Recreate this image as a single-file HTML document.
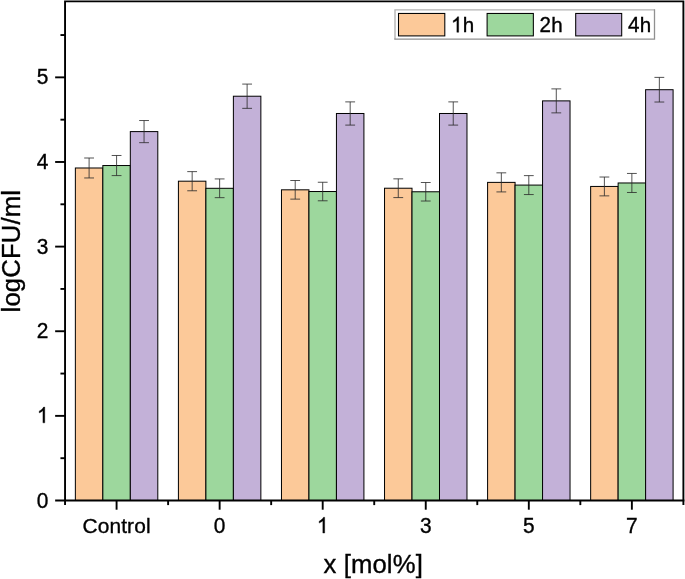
<!DOCTYPE html>
<html><head><meta charset="utf-8"><title>chart</title>
<style>html,body{margin:0;padding:0;background:#fff;}body{width:685px;height:579px;overflow:hidden;}svg{display:block;will-change:transform;opacity:0.9999;}text{font-family:"Liberation Sans",sans-serif;fill:#000;stroke:#000;stroke-width:0.35px;letter-spacing:0.12px;}</style>
</head><body>
<svg width="685" height="579" viewBox="0 0 685 579">
<rect x="0" y="0" width="685" height="579" fill="#ffffff"/>
<g stroke="#000" stroke-width="1.0">
<rect x="75.36" y="167.99" width="27.48" height="332.51" fill="#fcc999"/>
<rect x="102.84" y="165.53" width="27.48" height="334.97" fill="#9dd79d"/>
<rect x="130.32" y="131.60" width="27.48" height="368.90" fill="#c3b1d8"/>
<rect x="178.41" y="181.19" width="27.48" height="319.31" fill="#fcc999"/>
<rect x="205.90" y="188.30" width="27.48" height="312.20" fill="#9dd79d"/>
<rect x="233.38" y="96.22" width="27.48" height="404.28" fill="#c3b1d8"/>
<rect x="281.47" y="189.82" width="27.48" height="310.68" fill="#fcc999"/>
<rect x="308.95" y="191.52" width="27.48" height="308.98" fill="#9dd79d"/>
<rect x="336.44" y="113.49" width="27.48" height="387.01" fill="#c3b1d8"/>
<rect x="384.53" y="188.22" width="27.48" height="312.28" fill="#fcc999"/>
<rect x="412.01" y="191.77" width="27.48" height="308.73" fill="#9dd79d"/>
<rect x="439.50" y="113.49" width="27.48" height="387.01" fill="#c3b1d8"/>
<rect x="487.59" y="182.38" width="27.48" height="318.12" fill="#fcc999"/>
<rect x="515.07" y="185.08" width="27.48" height="315.42" fill="#9dd79d"/>
<rect x="542.55" y="100.88" width="27.48" height="399.62" fill="#c3b1d8"/>
<rect x="590.65" y="186.44" width="27.48" height="314.06" fill="#fcc999"/>
<rect x="618.13" y="182.97" width="27.48" height="317.53" fill="#9dd79d"/>
<rect x="645.61" y="89.71" width="27.48" height="410.79" fill="#c3b1d8"/>
</g>
<g stroke="#2a2a2a" stroke-width="0.9" fill="none" stroke-opacity="0.9">
<path d="M89.10 158.01V177.96M84.20 158.01H94.00M84.20 177.96H94.00"/>
<path d="M116.58 155.49V175.58M111.68 155.49H121.48M111.68 175.58H121.48"/>
<path d="M144.06 120.53V142.66M139.16 120.53H148.96M139.16 142.66H148.96"/>
<path d="M192.16 171.61V190.77M187.26 171.61H197.06M187.26 190.77H197.06"/>
<path d="M219.64 178.93V197.67M214.74 178.93H224.54M214.74 197.67H224.54"/>
<path d="M247.12 84.09V108.35M242.22 84.09H252.02M242.22 108.35H252.02"/>
<path d="M295.21 180.50V199.14M290.31 180.50H300.11M290.31 199.14H300.11"/>
<path d="M322.70 182.25V200.79M317.80 182.25H327.60M317.80 200.79H327.60"/>
<path d="M350.18 101.88V125.10M345.28 101.88H355.08M345.28 125.10H355.08"/>
<path d="M398.27 178.85V197.58M393.37 178.85H403.17M393.37 197.58H403.17"/>
<path d="M425.75 182.51V201.03M420.85 182.51H430.65M420.85 201.03H430.65"/>
<path d="M453.24 101.88V125.10M448.34 101.88H458.14M448.34 125.10H458.14"/>
<path d="M501.33 172.83V191.92M496.43 172.83H506.23M496.43 191.92H506.23"/>
<path d="M528.81 175.62V194.55M523.91 175.62H533.71M523.91 194.55H533.71"/>
<path d="M556.29 88.89V112.87M551.39 88.89H561.19M551.39 112.87H561.19"/>
<path d="M604.39 177.02V195.86M599.49 177.02H609.29M599.49 195.86H609.29"/>
<path d="M631.87 173.44V192.49M626.97 173.44H636.77M626.97 192.49H636.77"/>
<path d="M659.35 77.38V102.03M654.45 77.38H664.25M654.45 102.03H664.25"/>
</g>
<g stroke="#000" stroke-width="1.90" fill="none" stroke-linecap="butt">
<path d="M65.05 505.10V1.40H683.40V505.10"/>
<path d="M55.15 500.50H684.35"/>
<path d="M60.45 458.19H65.05"/>
<path d="M55.15 415.87H65.05"/>
<path d="M60.45 373.56H65.05"/>
<path d="M55.15 331.24H65.05"/>
<path d="M60.45 288.93H65.05"/>
<path d="M55.15 246.61H65.05"/>
<path d="M60.45 204.30H65.05"/>
<path d="M55.15 161.98H65.05"/>
<path d="M60.45 119.67H65.05"/>
<path d="M55.15 77.35H65.05"/>
<path d="M60.45 35.04H65.05"/>
<path d="M116.58 500.50V509.70"/>
<path d="M219.64 500.50V509.70"/>
<path d="M168.11 500.50V505.10"/>
<path d="M322.70 500.50V509.70"/>
<path d="M271.17 500.50V505.10"/>
<path d="M425.75 500.50V509.70"/>
<path d="M374.23 500.50V505.10"/>
<path d="M528.81 500.50V509.70"/>
<path d="M477.28 500.50V505.10"/>
<path d="M631.87 500.50V509.70"/>
<path d="M580.34 500.50V505.10"/>
</g>
<text transform="translate(48.60 507.50) scale(1 1.070)" font-size="20.90" text-anchor="end">0</text>
<path d="M763 0H583V1147Q518 1085 412.5 1023Q307 961 223 930V1104Q374 1175 487 1276Q600 1377 647 1472H763Z" transform="translate(36.98 422.87) scale(0.01021 -0.01072)" fill="#000" stroke="#000" stroke-width="34.3"/>
<text transform="translate(48.60 338.24) scale(1 1.070)" font-size="20.90" text-anchor="end">2</text>
<text transform="translate(48.60 253.61) scale(1 1.070)" font-size="20.90" text-anchor="end">3</text>
<text transform="translate(48.60 168.98) scale(1 1.070)" font-size="20.90" text-anchor="end">4</text>
<text transform="translate(48.60 84.35) scale(1 1.070)" font-size="20.90" text-anchor="end">5</text>
<text x="116.58" y="533.0" font-size="20.90" text-anchor="middle">Control</text>
<text transform="translate(219.64 533.05) scale(1 1.070)" font-size="20.90" text-anchor="middle">0</text>
<path d="M763 0H583V1147Q518 1085 412.5 1023Q307 961 223 930V1104Q374 1175 487 1276Q600 1377 647 1472H763Z" transform="translate(316.89 533.05) scale(0.01021 -0.01072)" fill="#000" stroke="#000" stroke-width="34.3"/>
<text transform="translate(425.75 533.05) scale(1 1.070)" font-size="20.90" text-anchor="middle">3</text>
<text transform="translate(528.81 533.05) scale(1 1.070)" font-size="20.90" text-anchor="middle">5</text>
<text transform="translate(631.87 533.05) scale(1 1.070)" font-size="20.90" text-anchor="middle">7</text>
<text x="373.2" y="572.7" font-size="25.70" text-anchor="middle">x [mol%]</text>
<text transform="translate(20.0 251.2) rotate(-90)" font-size="25.70" text-anchor="middle">logCFU/ml</text>
<rect x="395.0" y="9.9" width="259.5" height="29.3" fill="#fff" stroke="none"/>
<path d="M395.0 39.2V9.9H654.5" fill="none" stroke="#b4b4b4" stroke-width="1.4"/>
<path d="M654.5 9.2V39.2H394.3" fill="none" stroke="#909090" stroke-width="1.3"/>
<rect x="398.50" y="13.45" width="46.30" height="22.45" fill="#fcc999" stroke="#000" stroke-width="1.05"/>
<path d="M763 0H583V1147Q518 1085 412.5 1023Q307 961 223 930V1104Q374 1175 487 1276Q600 1377 647 1472H763Z" transform="translate(451.00 32.30) scale(0.01006 -0.01056)" fill="#000" stroke="#000" stroke-width="34.8"/>
<text x="462.75" y="32.3" font-size="20.60">h</text>
<rect x="487.10" y="13.45" width="46.25" height="22.45" fill="#9dd79d" stroke="#000" stroke-width="1.05"/>
<text transform="translate(539.50 32.3) scale(1 1.070)" font-size="20.60">2</text>
<text x="551.25" y="32.3" font-size="20.60">h</text>
<rect x="575.70" y="13.45" width="46.00" height="22.45" fill="#c3b1d8" stroke="#000" stroke-width="1.05"/>
<text transform="translate(628.00 32.3) scale(1 1.070)" font-size="20.60">4</text>
<text x="639.75" y="32.3" font-size="20.60">h</text>
</svg>
</body></html>
